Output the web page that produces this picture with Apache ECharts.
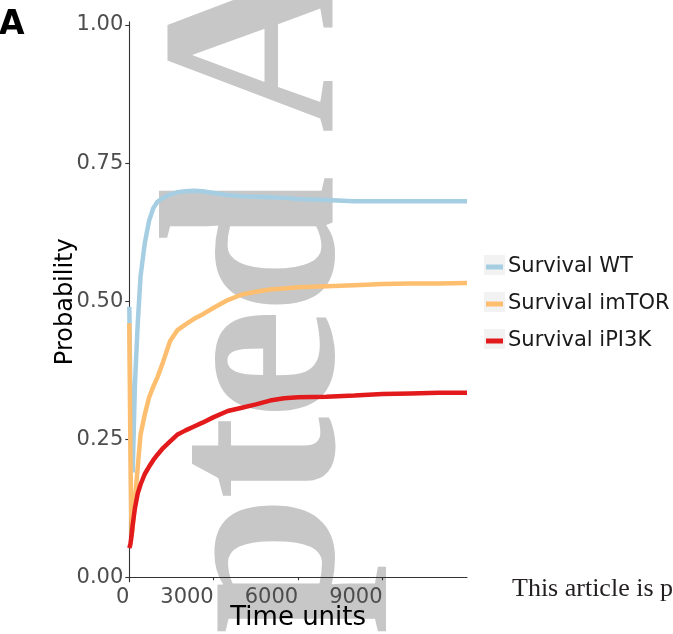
<!DOCTYPE html>
<html>
<head>
<meta charset="utf-8">
<script src="https://cdn.jsdelivr.net/npm/echarts@6/dist/echarts.min.js"></script>
<style>
html,body{margin:0;padding:0;background:#fff;}
#c{width:673px;height:634px;}
</style>
</head>
<body>
<div id="c"></div>
<script>
// ---- data ----
var timeUnits = [0, 40, 80, 120, 160, 200, 300, 400, 550, 700, 850, 1000, 1200, 1450, 1700, 2000, 2300, 2600, 3000, 3500, 4000, 4500, 5000, 5500, 6000, 7000, 8000, 9000, 10000, 11000, 12000];
var survivalWT = [0.49, 0.33, 0.22, 0.19, 0.27, 0.35, 0.46, 0.545, 0.605, 0.645, 0.668, 0.680, 0.687, 0.693, 0.697, 0.699, 0.700, 0.699, 0.696, 0.692, 0.690, 0.689, 0.688, 0.687, 0.685, 0.683, 0.681, 0.681, 0.681, 0.681, 0.681];
var survivalImTOR = [0.46, 0.22, 0.075, 0.09, 0.115, 0.14, 0.20, 0.258, 0.295, 0.325, 0.345, 0.362, 0.39, 0.428, 0.447, 0.458, 0.468, 0.476, 0.488, 0.502, 0.512, 0.517, 0.521, 0.523, 0.525, 0.527, 0.529, 0.531, 0.532, 0.532, 0.533];
var survivalIPI3K = [0.053, 0.06, 0.075, 0.095, 0.11, 0.125, 0.152, 0.168, 0.187, 0.200, 0.212, 0.222, 0.234, 0.246, 0.258, 0.266, 0.273, 0.280, 0.290, 0.301, 0.307, 0.313, 0.320, 0.324, 0.326, 0.327, 0.329, 0.332, 0.333, 0.334, 0.334];
var seriesNames = ['Survival WT', 'Survival imTOR', 'Survival iPI3K'];
var xTicks = [0, 3000, 6000, 9000];
var yTicks = [0, 0.25, 0.5, 0.75, 1];

function pairs(vals) {
  return timeUnits.map(function (t, i) { return [t, vals[i]]; });
}

var colors = ['#a6cee3', '#fdbf6f', '#e31a1c'];
var wmColor = '#c7c7c7';
function wmLetter(ch, cy) {
  return {
    type: 'text', x: 268, y: cy, rotation: Math.PI / 2, z: -10, silent: true,
    style: { text: ch, fontSize: 250, fontWeight: 'bold', fontFamily: 'Liberation Serif', fill: wmColor, textAlign: 'center', textVerticalAlign: 'middle', align: 'center', verticalAlign: 'middle' }
  };
}
function legendBg(cy) {
  return { type: 'rect', shape: { x: 484, y: cy - 10, width: 21, height: 20 }, style: { fill: '#f2f2f2' }, z: 0, silent: true };
}

var chart = echarts.init(document.getElementById('c'), null, { renderer: 'canvas' });
chart.setOption({
  backgroundColor: '#ffffff',
  animation: false,
  color: colors,
  grid: { left: 129.3, right: 206, top: 21.7, bottom: 52.3, containLabel: false, outerBoundsMode: 'none' },
  xAxis: {
    type: 'value', min: 0, max: 12000,
    name: 'Time units', nameLocation: 'middle', nameGap: 24, nameMoveOverlap: false,
    nameTextStyle: { fontFamily: 'DejaVu Sans', fontSize: 26, color: '#000' },
    axisLine: { show: true, lineStyle: { color: '#333', width: 1.1 } },
    axisTick: { show: true, length: 3, lineStyle: { color: '#333', width: 1.1 }, customValues: xTicks },
    axisLabel: { customValues: xTicks, align: 'right', margin: 5, fontFamily: 'DejaVu Sans', fontSize: 21, color: '#4d4d4d', formatter: function (v) { return String(v); } },
    splitLine: { show: false }
  },
  yAxis: {
    type: 'value', min: -0.008, max: 1.006,
    name: 'Probability', nameLocation: 'middle', nameGap: 52, nameRotate: 90, nameMoveOverlap: false,
    nameTextStyle: { fontFamily: 'DejaVu Sans', fontSize: 24, color: '#000' },
    axisLine: { show: true, lineStyle: { color: '#333', width: 1.1 } },
    axisTick: { show: true, length: 4, lineStyle: { color: '#333', width: 1.1 }, customValues: yTicks },
    axisLabel: { customValues: yTicks, margin: 6, fontFamily: 'DejaVu Sans', fontSize: 21, color: '#4d4d4d', formatter: function (v) { return v.toFixed(2); } },
    splitLine: { show: false }
  },
  legend: {
    orient: 'vertical', left: 486, top: 256, padding: 0,
    icon: 'rect', itemWidth: 17, itemHeight: 5, itemGap: 15,
    textStyle: { fontFamily: 'DejaVu Sans', fontSize: 21, color: '#1a1a1a', lineHeight: 22 },
    data: seriesNames
  },
  series: [
    { name: seriesNames[0], type: 'line', data: pairs(survivalWT), showSymbol: false, lineStyle: { width: 4.5, color: colors[0] }, itemStyle: { color: colors[0] } },
    { name: seriesNames[1], type: 'line', data: pairs(survivalImTOR), showSymbol: false, lineStyle: { width: 4.5, color: colors[1] }, itemStyle: { color: colors[1] } },
    { name: seriesNames[2], type: 'line', data: pairs(survivalIPI3K), showSymbol: false, lineStyle: { width: 4.5, color: colors[2] }, itemStyle: { color: colors[2] } }
  ],
  graphic: [
    wmLetter('A', 43), wmLetter('d', 245), wmLetter('e', 364), wmLetter('t', 458), wmLetter('p', 565),
    legendBg(265), legendBg(302), legendBg(339),
    { type: 'text', x: -1, y: 25, z: 5, style: { text: 'A', fontSize: 33, fontWeight: 'bold', fontFamily: 'DejaVu Sans', fill: '#000', textAlign: 'left', textVerticalAlign: 'middle', align: 'left', verticalAlign: 'middle' } },
    { type: 'text', x: 512, y: 589, z: 5, style: { text: 'This article is protected by copyright.', fontSize: 26, fontFamily: 'Liberation Serif', fill: '#231f20', textAlign: 'left', textVerticalAlign: 'middle', align: 'left', verticalAlign: 'middle' } }
  ]
});
</script>
</body>
</html>
